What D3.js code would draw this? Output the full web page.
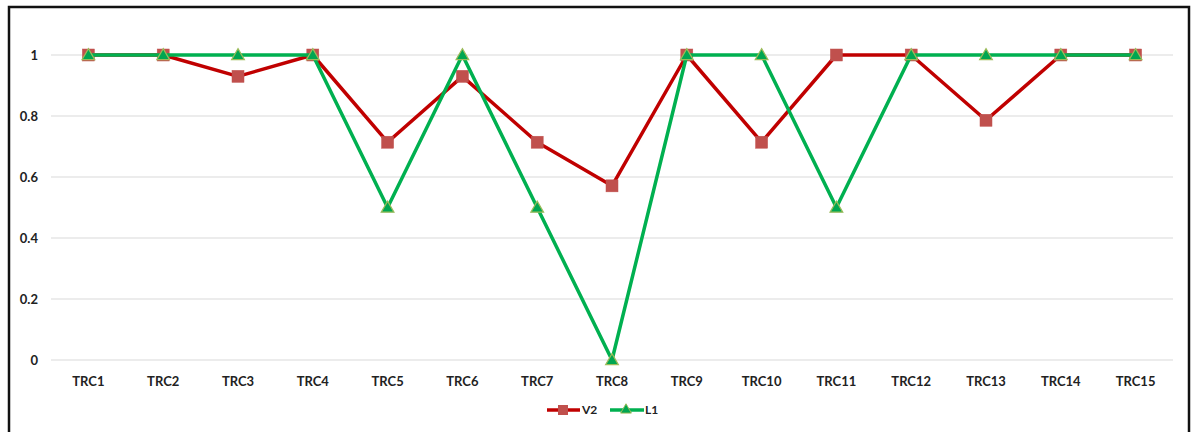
<!DOCTYPE html>
<html>
<head>
<meta charset="utf-8">
<script src="https://cdn.jsdelivr.net/npm/d3@7"></script>
<style>
  html, body { margin: 0; padding: 0; background: #fff; }
  svg { display: block; }
  text { font-family: Lato, "Open Sans", "Liberation Sans", sans-serif; font-weight: bold; fill: #222; }
</style>
</head>
<body>
<svg id="chart" width="1194" height="432"></svg>
<script>
// Test cases along the horizontal axis
const categories = ["TRC1","TRC2","TRC3","TRC4","TRC5","TRC6","TRC7","TRC8","TRC9","TRC10","TRC11","TRC12","TRC13","TRC14","TRC15"];
// Series values
const v2Values = [1, 1, 0.93, 1, 0.714, 0.93, 0.714, 0.571, 1, 0.714, 1, 1, 0.786, 1, 1];
const l1Values = [1, 1, 1, 1, 0.5, 1, 0.5, 0, 1, 1, 0.5, 1, 1, 1, 1];
// Value axis ticks
const yTicks = [0, 0.2, 0.4, 0.6, 0.8, 1];
const seriesNames = ["V2", "L1"];

const svg = d3.select("#chart");

// Outer frame
svg.append("rect")
  .attr("x", 9).attr("y", 7)
  .attr("width", 1180).attr("height", 440)
  .attr("fill", "#fff").attr("stroke", "#111").attr("stroke-width", 2.5);

const plot = { left: 51, right: 1173, top: 55, bottom: 360 };

const x = d3.scaleBand().domain(categories).range([plot.left, plot.right]);
const y = d3.scaleLinear().domain([0, 1]).range([plot.bottom, plot.top]);

// Horizontal gridlines
svg.append("g").selectAll("line").data(yTicks).join("line")
  .attr("x1", plot.left).attr("x2", plot.right)
  .attr("y1", d => y(d)).attr("y2", d => y(d))
  .attr("stroke", "#d9d9d9").attr("stroke-width", 1);

// Y tick labels
const yAxis = d3.axisLeft(y).tickValues(yTicks).tickSize(0).tickPadding(0)
  .tickFormat(d => d3.format("")(d));
svg.append("g").attr("transform", "translate(38,0)").call(yAxis)
  .call(g => g.select(".domain").remove())
  .call(g => g.selectAll("text")
    .attr("font-size", 13).attr("dy", "0.35em")
    .style("font-family", "Lato, 'Open Sans', sans-serif").style("font-weight", "bold").attr("fill", "#222"));

// Category labels
const xAxis = d3.axisBottom(x).tickSize(0).tickPadding(0);
svg.append("g").attr("transform", `translate(0,${plot.bottom + 21})`).call(xAxis)
  .call(g => g.select(".domain").remove())
  .call(g => g.selectAll("text")
    .attr("font-size", 13).attr("dy", "0.35em").attr("y", 0)
    .style("font-family", "Lato, 'Open Sans', sans-serif").style("font-weight", "bold").attr("fill", "#222"));

const cx = d => x(d) + x.bandwidth() / 2;
const line = d3.line().x(d => cx(d.c)).y(d => y(d.v));

const v2Data = categories.map((c, i) => ({ c, v: v2Values[i] }));
const l1Data = categories.map((c, i) => ({ c, v: l1Values[i] }));

const triPath = d3.symbol().type(d3.symbolTriangle).size(70)();

// V2 series
svg.append("path").datum(v2Data)
  .attr("d", line).attr("fill", "none")
  .attr("stroke", "#C00000").attr("stroke-width", 3.5).attr("stroke-linejoin", "round");
svg.append("g").selectAll("rect").data(v2Data).join("rect")
  .attr("x", d => cx(d.c) - 6).attr("y", d => y(d.v) - 6)
  .attr("width", 12).attr("height", 12)
  .attr("fill", "#C0504D").attr("stroke", "#C0504D").attr("stroke-width", 0.5);

// L1 series
svg.append("path").datum(l1Data)
  .attr("d", line).attr("fill", "none")
  .attr("stroke", "#00B050").attr("stroke-width", 3.5).attr("stroke-linejoin", "round");
svg.append("g").selectAll("path").data(l1Data).join("path")
  .attr("d", triPath)
  .attr("transform", d => `translate(${cx(d.c)},${y(d.v) + 1})`)
  .attr("fill", "#00A651").attr("stroke", "#9BBB59").attr("stroke-width", 1.2);

// Legend
const legend = svg.append("g").attr("transform", "translate(547,410)");
legend.append("line").attr("x1", 0).attr("x2", 33).attr("y1", 0).attr("y2", 0)
  .attr("stroke", "#C00000").attr("stroke-width", 3.5);
legend.append("rect").attr("x", 11).attr("y", -5).attr("width", 10).attr("height", 10).attr("fill", "#C0504D");
legend.append("text").attr("x", 35).attr("y", 0).attr("dy", "0.35em").attr("font-size", 12).text(seriesNames[0]);
legend.append("line").attr("x1", 63).attr("x2", 97).attr("y1", 0).attr("y2", 0)
  .attr("stroke", "#00B050").attr("stroke-width", 3.5);
legend.append("path").attr("d", d3.symbol().type(d3.symbolTriangle).size(50)())
  .attr("transform", "translate(79,0)")
  .attr("fill", "#00A651").attr("stroke", "#9BBB59").attr("stroke-width", 1);
legend.append("text").attr("x", 98).attr("y", 0).attr("dy", "0.35em").attr("font-size", 12).text(seriesNames[1]);
</script>
</body>
</html>
